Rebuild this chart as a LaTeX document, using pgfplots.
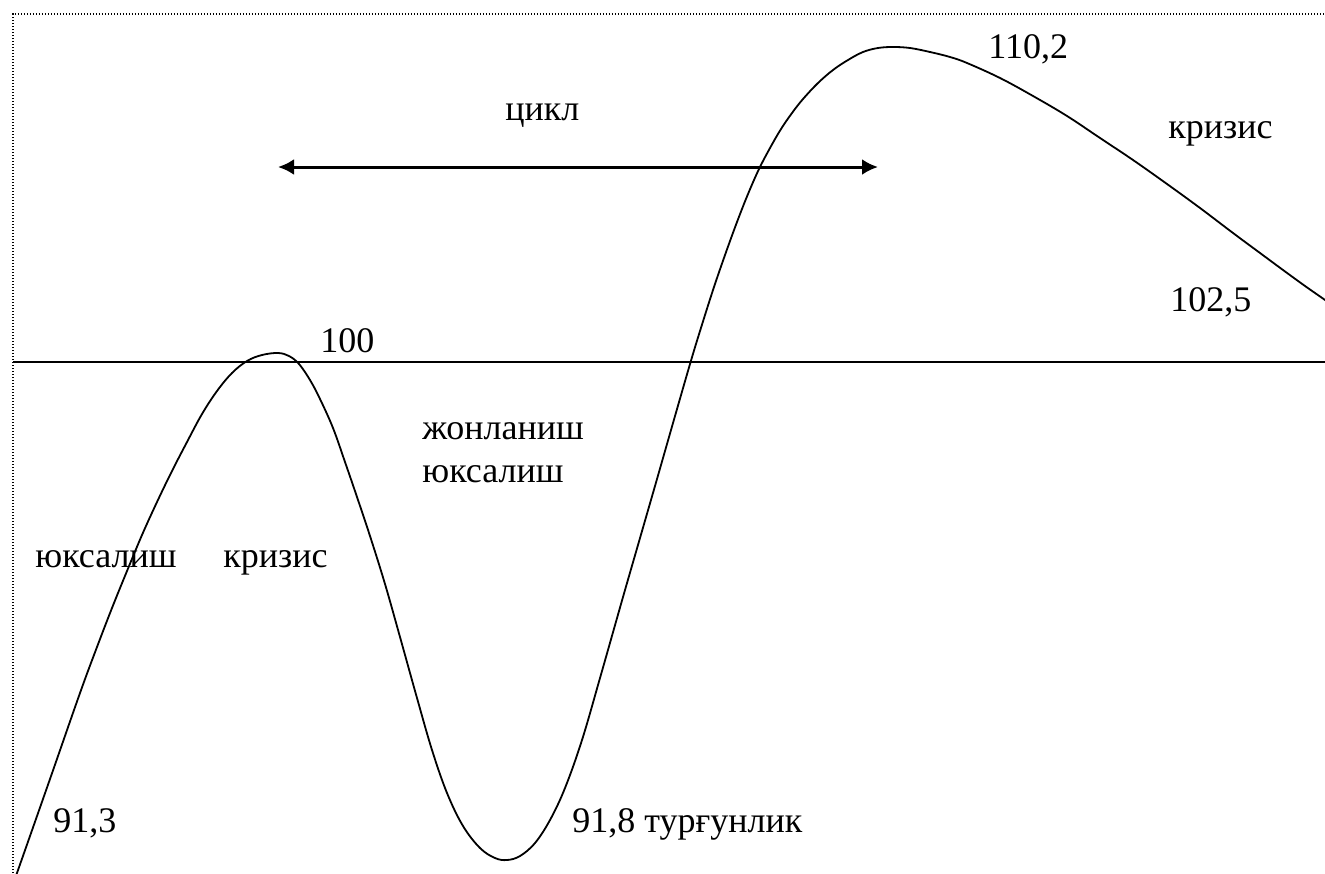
\documentclass[border=0pt]{standalone}
\usepackage{pgfplots}
\pgfplotsset{compat=1.18}
\usepackage{fontspec}
\setmainfont{Liberation Serif}
\usetikzlibrary{arrows.meta}
\begin{document}
\begin{tikzpicture}
\useasboundingbox (0,0) rectangle (662.5pt,436.5pt);
\begin{axis}[
  at={(0,0)}, anchor=south west,
  width=662.5pt, height=436.5pt, scale only axis,
  xmin=0, xmax=1325, ymin=0, ymax=873, y dir=reverse,
  axis lines=none, clip=true,
  every axis plot/.append style={black},
  nodes={font=\fontsize{18}{21}\selectfont, inner sep=0pt},
]
% dotted frame
\addplot[line width=0.7pt, dash pattern=on 0.7pt off 0.8pt] coordinates {(13,873) (13,14) (1325,14)};
% level 100
\addplot[line width=1pt] coordinates {(13,362) (1325,362)};
% cycle arrow
\addplot[line width=1.5pt, {Latex[length=8pt,width=8pt]}-{Latex[length=8pt,width=8pt]}] coordinates {(278,167) (878,167)};
% curve
\addplot[smooth, tension=0.6, line width=0.9pt] coordinates {
(12,887) (17,873) (50,779) (80,693) (97,647) (112,608) (127,571) (142,535) (157,502) (172,471) (187,442) (202,414)
(217,391) (232,373) (247,361) (262,355) (278,353) (289,356) (299,364) (310,380) (320,399) (333,428) (345,462) (357,497)
(370,536) (385,584) (400,637) (417,698) (432,750) (447,793) (463,826) (480,848) (495,858) (507,860) (520,856)
(535,843) (550,820) (565,788) (582,740) (600,678) (623,597) (640,538) (657,479) (673,423) (690,364) (700,331)
(713,290) (725,255) (737,222) (748,194) (759,169) (770,148) (781,129) (792,113) (803,99) (818,83) (833,70)
(848,60) (863,52) (878,48) (893,47) (910,48) (930,52) (950,57) (967,63) (1000,78) (1033,96) (1067,116)
(1100,138) (1133,160) (1167,184) (1200,208) (1233,233) (1260,253) (1283,270) (1305,286) (1325,300) (1340,311)
};
\node[anchor=base west] at (axis cs:988,58) {110,2};
\node[anchor=base west] at (axis cs:1168,138) {кризис};
\node[anchor=base west] at (axis cs:505,120) {цикл};
\node[anchor=base west] at (axis cs:1170,311) {102,5};
\node[anchor=base west] at (axis cs:320,352) {100};
\node[anchor=base west] at (axis cs:422,439) {жонланиш};
\node[anchor=base west] at (axis cs:422,482) {юксалиш};
\node[anchor=base west] at (axis cs:35,567) {юксалиш};
\node[anchor=base west] at (axis cs:223,567) {кризис};
\node[anchor=base west] at (axis cs:53,832) {91,3};
\node[anchor=base west] at (axis cs:572,832) {91,8 турғунлик};
\end{axis}
\end{tikzpicture}
\end{document}
